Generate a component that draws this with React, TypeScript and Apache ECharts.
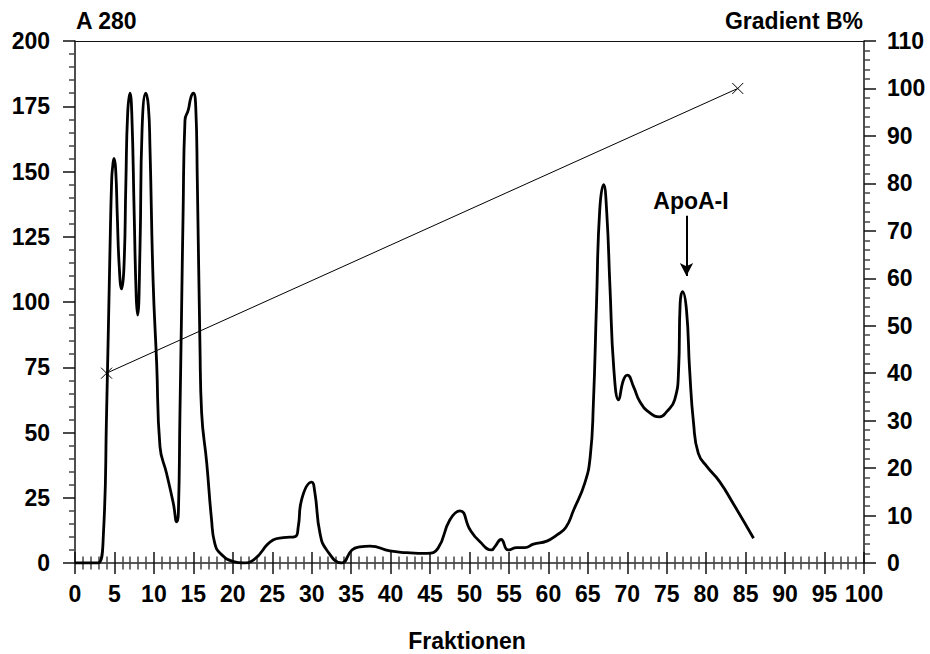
import React, { useEffect, useRef } from "react";
import * as echarts from "echarts";

const fractionX = [0, 1, 2, 2.9, 3.6, 4.0, 4.44, 4.65, 4.78, 4.94, 5.15, 5.36, 5.6, 5.9, 6.2, 6.45, 6.67, 6.97, 7.2, 7.5, 7.76, 7.94, 8.24, 8.5, 8.98, 9.3, 9.5, 9.9, 10.35, 10.77, 11.6, 12.46, 12.9, 13.1, 13.3, 13.5, 13.7, 13.94, 14.36, 14.7, 15.0, 15.3, 15.5, 15.84, 16.05, 16.7, 17.3, 17.7, 18.4, 20.1, 21.3, 22.6, 25.1, 26.4, 27.9, 28.3, 28.7, 30.0, 30.4, 31.05, 31.9, 33.8, 35.1, 36.1, 37.4, 39.9, 42.0, 44.6, 46.0, 47.5, 48.8, 50.1, 51.3, 52.8, 53.2, 54.0, 54.9, 56.0, 57.0, 58.1, 59.8, 61.05, 62.2, 63.2, 64.6, 65.3, 65.7, 66.1, 66.5, 67.0, 67.4, 67.8, 68.3, 68.9, 69.5, 70.0, 70.8, 71.6, 72.9, 74.1, 75.0, 76.0, 76.5, 76.7, 77.0, 77.5, 77.9, 78.4, 79.0, 80.1, 81.7, 83.4, 86.0];
const a280 = [0, 0, 0, 0, 11, 57, 121, 147, 152, 155, 151, 133, 114, 105, 113, 146, 172, 180, 172, 134, 102, 95, 121, 166, 180, 175, 159.5, 108, 76.5, 44.6, 34.4, 22.9, 15.8, 19, 57, 95, 134, 169.7, 173.6, 178.5, 180, 175, 147, 82.9, 57.5, 38.2, 16.8, 7.7, 3.7, 0.5, 0, 1.1, 8.8, 9.7, 10.1, 14, 24, 31, 27, 11.4, 5, 0, 5, 6.2, 6.5, 4.6, 4, 3.7, 5.6, 16.5, 20, 12.6, 8.2, 5, 6.2, 9, 5, 5.9, 5.9, 7.2, 8.4, 10.7, 13.6, 20.3, 30.5, 40.7, 61, 99.5, 135, 145, 134, 106, 74, 62.5, 70, 72, 67.5, 61.8, 57.4, 56, 58, 62.5, 74, 99.5, 104, 97, 74, 53.5, 42, 36.9, 31.2, 22.9, 9.5];

const gradientX = [4, 84];
const gradientB = [40, 100];

const apoX = 77.5;
const apoFrom = 133;
const apoTo = 110;

const FONT = "'Liberation Sans', Arial, Helvetica, sans-serif";
const labelStyle = { fontFamily: FONT, fontWeight: "bold" as const, fontSize: 23, color: "#000" };

export default function App() {
  const ref = useRef<HTMLDivElement>(null);
  useEffect(() => {
    if (!ref.current) return;
    const chart = echarts.init(ref.current, null, { renderer: "svg" });
    const axisLine = { lineStyle: { color: "#222", width: 1.6 } };
    const majorTick = { color: "#111", width: 1.5 };
    const minorTick = { color: "#444", width: 1.5 };
    chart.setOption({
      animation: false,
      backgroundColor: "#fff",
      grid: { left: 75, right: 66, top: 41, bottom: 91, containLabel: false },
      graphic: [
        { type: "text", x: 76, y: 9, style: { text: "A 280", fill: "#000", font: `bold 23px ${FONT}` } },
        { type: "text", x: 863, y: 9, style: { text: "Gradient B%", fill: "#000", font: `bold 23px ${FONT}`, align: "right" } },
        { type: "text", x: 467, y: 629, style: { text: "Fraktionen", fill: "#000", font: `bold 23px ${FONT}`, align: "center" } },
      ],
      xAxis: [
        {
          type: "value", position: "bottom", min: 0, max: 100, interval: 5,
          axisLine: { show: true, onZero: false, ...axisLine },
          axisTick: { show: true, inside: false, length: 11, lineStyle: majorTick },
          minorTick: { show: true, splitNumber: 5, length: 6.5, lineStyle: minorTick },
          axisLabel: { ...labelStyle, margin: 19 },
          splitLine: { show: false },
        },
        {
          type: "value", position: "bottom", min: 0, max: 100, interval: 5,
          axisLine: { show: false, onZero: false },
          axisTick: { show: true, inside: true, length: 11, lineStyle: majorTick },
          minorTick: { show: true, splitNumber: 5, length: 6.5, lineStyle: minorTick },
          axisLabel: { show: false },
          splitLine: { show: false },
        },
        {
          type: "value", position: "top", min: 0, max: 100, interval: 5,
          axisLine: { show: true, onZero: false, lineStyle: { color: "#111", width: 1.2 } },
          axisTick: { show: false }, axisLabel: { show: false }, splitLine: { show: false },
        },
      ],
      yAxis: [
        {
          type: "value", position: "left", min: 0, max: 200, interval: 25,
          axisLine: { show: true, onZero: false, ...axisLine },
          axisTick: { show: true, inside: false, length: 12, lineStyle: majorTick },
          minorTick: { show: true, splitNumber: 5, length: 6, lineStyle: minorTick },
          axisLabel: { ...labelStyle, margin: 25 },
          splitLine: { show: false },
        },
        {
          type: "value", position: "right", min: 0, max: 110, interval: 10,
          axisLine: { show: true, onZero: false, ...axisLine },
          axisTick: { show: true, inside: false, length: 12, lineStyle: majorTick },
          minorTick: { show: true, splitNumber: 5, length: 6, lineStyle: minorTick },
          axisLabel: { ...labelStyle, margin: 23 },
          splitLine: { show: false },
        },
      ],
      series: [
        {
          name: "A 280", type: "line", xAxisIndex: 0, yAxisIndex: 0,
          data: fractionX.map((x, i) => [x, a280[i]]),
          showSymbol: false, symbol: "none", smooth: 0.5,
          lineStyle: { color: "#000", width: 2.8 },
          markLine: {
            silent: true, symbol: ["none", "arrow"], symbolSize: [10, 13],
            lineStyle: { color: "#000", width: 2, type: "solid" },
            label: { show: true, position: "start", formatter: "ApoA-I", ...labelStyle, distance: 3, padding: [0, 0, 0, 9] },
            data: [[{ coord: [apoX, apoFrom] }, { coord: [apoX, apoTo] }]],
          },
        },
        {
          name: "Gradient B%", type: "line", xAxisIndex: 0, yAxisIndex: 1,
          data: gradientX.map((x, i) => [x, gradientB[i]]),
          symbol: "path://M0,0L10,10M10,0L0,10", symbolSize: 11,
          itemStyle: { color: "none", borderColor: "#000", borderWidth: 1 },
          lineStyle: { color: "#000", width: 1 },
        },
      ],
    });
    return () => chart.dispose();
  }, []);
  return <div ref={ref} style={{ position: "fixed", left: 0, top: 0, width: 930, height: 654 }} />;
}
